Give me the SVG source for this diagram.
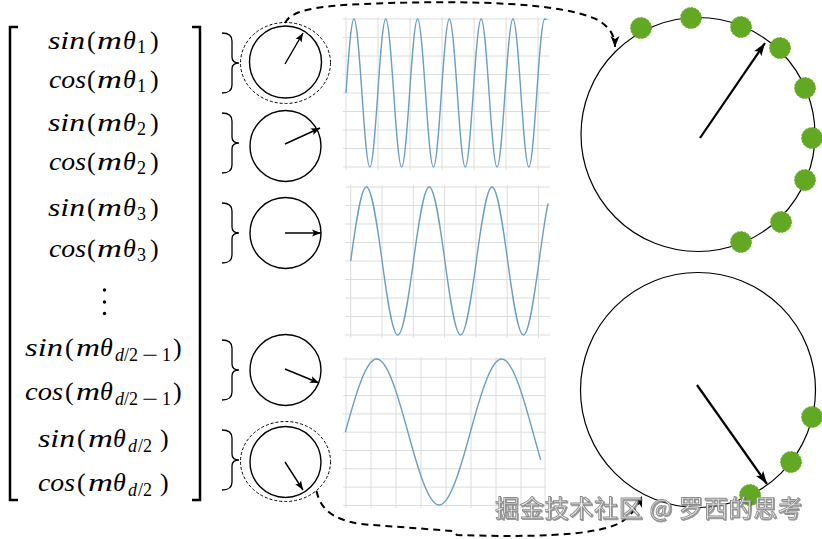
<svg xmlns="http://www.w3.org/2000/svg" width="822" height="539" viewBox="0 0 822 539">
<style>
.m{font-family:"Liberation Serif","Times New Roman",serif;font-style:italic;font-size:26px;fill:#000}
.up{font-style:normal}
.sub{font-size:18px;font-style:normal}
.subi{font-size:18px;font-style:italic}
.br{fill:none;stroke:#000;stroke-width:2.5}
.cb{fill:none;stroke:#000;stroke-width:1.3}
.sc{fill:none;stroke:#000;stroke-width:1.4}
.de{fill:none;stroke:#000;stroke-width:1;stroke-dasharray:3 2}
.bc{fill:none;stroke:#000;stroke-width:1.2}
.sa{fill:none;stroke:#000;stroke-width:1.4;marker-end:url(#ah)}
.ba{fill:none;stroke:#000;stroke-width:2.2;marker-end:url(#ahb)}
.dc{fill:none;stroke:#000;stroke-width:2;stroke-dasharray:7 5;marker-end:url(#ahd)}
.grid{fill:none;stroke:#dcdcdc;stroke-width:1}
.wave{fill:none;stroke:#6a9ec2;stroke-width:1.4}
.dot{fill:#62a823;stroke:#6bb02a;stroke-width:1;stroke-dasharray:2 1.5}
.wm{font-family:"Noto Sans CJK SC","Noto Sans",sans-serif;font-size:24px;fill:#f4f4f4;stroke:#8c8c8c;stroke-width:0.9}
</style>
<defs>
<marker id="ah" markerUnits="userSpaceOnUse" markerWidth="10" markerHeight="8" refX="9" refY="4" orient="auto"><path d="M0,0.5 L9,4 L0,7.5 L2,4 z" fill="#000"/></marker>
<marker id="ahb" markerUnits="userSpaceOnUse" markerWidth="14" markerHeight="10" refX="13" refY="5" orient="auto"><path d="M0,0.5 L13,5 L0,9.5 L3,5 z" fill="#000"/></marker>
<marker id="ahd" markerUnits="userSpaceOnUse" markerWidth="12" markerHeight="10" refX="11" refY="5" orient="auto"><path d="M0,0.5 L11,5 L0,9.5 L3,5 z" fill="#000"/></marker>
<filter id="sh" x="-5%" y="-20%" width="110%" height="140%"><feDropShadow dx="1" dy="1" stdDeviation="0.6" flood-color="#555" flood-opacity="0.6"/></filter>
</defs>
<rect width="822" height="539" fill="#fff"/>

<g id="matrix">
<path class="br" d="M18,27 H10 V500 H18"/>
<path class="br" d="M192,27 H200 V500 H192"/>
<text class="m" y="49"><tspan x="48" textLength="37" lengthAdjust="spacingAndGlyphs">sin</tspan><tspan class="up" x="87">(</tspan><tspan x="97" textLength="25" lengthAdjust="spacingAndGlyphs">m</tspan><tspan x="123">θ</tspan><tspan class="sub" x="137" y="53">1</tspan><tspan class="up" x="150" y="49">)</tspan></text>
<text class="m" y="88"><tspan x="49" textLength="37" lengthAdjust="spacingAndGlyphs">cos</tspan><tspan class="up" x="87">(</tspan><tspan x="97" textLength="25" lengthAdjust="spacingAndGlyphs">m</tspan><tspan x="123">θ</tspan><tspan class="sub" x="137" y="92">1</tspan><tspan class="up" x="150" y="88">)</tspan></text>
<text class="m" y="131"><tspan x="48" textLength="37" lengthAdjust="spacingAndGlyphs">sin</tspan><tspan class="up" x="87">(</tspan><tspan x="97" textLength="25" lengthAdjust="spacingAndGlyphs">m</tspan><tspan x="123">θ</tspan><tspan class="sub" x="137" y="135">2</tspan><tspan class="up" x="150" y="131">)</tspan></text>
<text class="m" y="170"><tspan x="49" textLength="37" lengthAdjust="spacingAndGlyphs">cos</tspan><tspan class="up" x="87">(</tspan><tspan x="97" textLength="25" lengthAdjust="spacingAndGlyphs">m</tspan><tspan x="123">θ</tspan><tspan class="sub" x="137" y="174">2</tspan><tspan class="up" x="150" y="170">)</tspan></text>
<text class="m" y="215.5"><tspan x="48" textLength="37" lengthAdjust="spacingAndGlyphs">sin</tspan><tspan class="up" x="87">(</tspan><tspan x="97" textLength="25" lengthAdjust="spacingAndGlyphs">m</tspan><tspan x="123">θ</tspan><tspan class="sub" x="137" y="219.5">3</tspan><tspan class="up" x="150" y="215.5">)</tspan></text>
<text class="m" y="256.5"><tspan x="49" textLength="37" lengthAdjust="spacingAndGlyphs">cos</tspan><tspan class="up" x="87">(</tspan><tspan x="97" textLength="25" lengthAdjust="spacingAndGlyphs">m</tspan><tspan x="123">θ</tspan><tspan class="sub" x="137" y="260.5">3</tspan><tspan class="up" x="150" y="256.5">)</tspan></text>
<circle cx="104.5" cy="290" r="1.7"/>
<circle cx="104.5" cy="302" r="1.7"/>
<circle cx="104.5" cy="313.5" r="1.7"/>
<text class="m" y="356"><tspan x="25" textLength="38" lengthAdjust="spacingAndGlyphs">sin</tspan><tspan class="up" x="65">(</tspan><tspan x="76" textLength="24" lengthAdjust="spacingAndGlyphs">m</tspan><tspan x="100">θ</tspan><tspan class="subi" x="115" y="361">d</tspan><tspan class="sub" x="124" y="361">/2</tspan><tspan class="sub" x="142" y="361" textLength="16" lengthAdjust="spacingAndGlyphs">−</tspan><tspan class="sub" x="162" y="361">1</tspan><tspan class="up" x="173" y="356">)</tspan></text>
<text class="m" y="400"><tspan x="25" textLength="38" lengthAdjust="spacingAndGlyphs">cos</tspan><tspan class="up" x="65">(</tspan><tspan x="76" textLength="24" lengthAdjust="spacingAndGlyphs">m</tspan><tspan x="100">θ</tspan><tspan class="subi" x="115" y="405">d</tspan><tspan class="sub" x="124" y="405">/2</tspan><tspan class="sub" x="142" y="405" textLength="16" lengthAdjust="spacingAndGlyphs">−</tspan><tspan class="sub" x="162" y="405">1</tspan><tspan class="up" x="173" y="400">)</tspan></text>
<text class="m" y="447"><tspan x="38" textLength="37" lengthAdjust="spacingAndGlyphs">sin</tspan><tspan class="up" x="77">(</tspan><tspan x="88" textLength="25" lengthAdjust="spacingAndGlyphs">m</tspan><tspan x="113">θ</tspan><tspan class="subi" x="128" y="452">d</tspan><tspan class="sub" x="138" y="452">/2</tspan><tspan class="up" x="160" y="447">)</tspan></text>
<text class="m" y="491"><tspan x="38" textLength="37" lengthAdjust="spacingAndGlyphs">cos</tspan><tspan class="up" x="77">(</tspan><tspan x="88" textLength="25" lengthAdjust="spacingAndGlyphs">m</tspan><tspan x="113">θ</tspan><tspan class="subi" x="128" y="496">d</tspan><tspan class="sub" x="138" y="496">/2</tspan><tspan class="up" x="160" y="491">)</tspan></text>
</g>

<g id="braces">
<path class="cb" d="M222,33 Q232,33 232,41 V57 Q232,63 239,63 Q232,63 232,69 V85 Q232,93 222,93"/>
<path class="cb" d="M222,113 Q232,113 232,121 V137 Q232,143 239,143 Q232,143 232,149 V165 Q232,173 222,173"/>
<path class="cb" d="M222,203 Q232,203 232,211 V227 Q232,233 239,233 Q232,233 232,239 V255 Q232,263 222,263"/>
<path class="cb" d="M222,340 Q232,340 232,348 V364 Q232,370 239,370 Q232,370 232,376 V392 Q232,400 222,400"/>
<path class="cb" d="M222,430 Q232,430 232,438 V454 Q232,460 239,460 Q232,460 232,466 V482 Q232,490 222,490"/>
</g>

<g id="rot1"><ellipse class="de" cx="285.5" cy="63" rx="45" ry="40.5"/><circle class="sc" cx="285.5" cy="62" r="36"/><path class="sa" d="M285,64 L303,33"/></g>
<g id="rot2"><circle class="sc" cx="285.5" cy="146" r="35.5"/><path class="sa" d="M285,144 L320,128"/></g>
<g id="rot3"><circle class="sc" cx="285.5" cy="233" r="35.5"/><path class="sa" d="M285,233 L321,233"/></g>
<g id="rot4"><circle class="sc" cx="285.5" cy="370" r="35.5"/><path class="sa" d="M285,369 L319,383"/></g>
<g id="rot5"><ellipse class="de" cx="285.5" cy="461.5" rx="45" ry="40"/><circle class="sc" cx="285.5" cy="462" r="35.5"/><path class="sa" d="M285,462 L303,490"/></g>

<g id="plot1">
<path class="grid" d="M343,19H550M343,37.5H550M343,56H550M343,74.5H550M343,93H550M343,111.5H550M343,130H550M343,148.5H550M343,167H550M346,17V170M378,17V170M410,17V170M442,17V170M474,17V170M506,17V170M538,17V170"/>
<path class="wave" d="M346,93 c2.59,-37.93 5.22,-74 7.95,-74 s5.36,36.08 7.95,74 s5.22,74 7.95,74 s5.36,-36.08 7.95,-74 s5.22,-74 7.95,-74 s5.36,36.08 7.95,74 s5.22,74 7.95,74 s5.36,-36.08 7.95,-74 s5.22,-74 7.95,-74 s5.36,36.08 7.95,74 s5.22,74 7.95,74 s5.36,-36.08 7.95,-74 s5.22,-74 7.95,-74 s5.36,36.08 7.95,74 s5.22,74 7.95,74 s5.36,-36.08 7.95,-74 s5.22,-74 7.95,-74 s5.36,36.08 7.95,74 s5.22,74 7.95,74 s5.36,-36.08 7.95,-74 s5.22,-74 7.95,-74 s5.36,36.08 7.95,74 s5.22,74 7.95,74 s5.36,-36.08 7.95,-74 s5.22,-74 7.95,-74 l2,0.6"/>
</g>
<g id="plot2">
<path class="grid" d="M345,187H550M345,205.5H550M345,224H550M345,242.5H550M345,261H550M345,279.5H550M345,298H550M345,316.5H550M345,335H550M350.7,185V338M382,185V338M413.3,185V338M444.6,185V338M475.9,185V338M507.2,185V338M538.5,185V338"/>
<path class="wave" d="M350.7,261 c5.12,-37.93 10.32,-74 15.7,-74 s10.58,36.08 15.7,74 s10.32,74 15.7,74 s10.58,-36.08 15.7,-74 s10.32,-74 15.7,-74 s10.58,36.08 15.7,74 s10.32,74 15.7,74 s10.58,-36.08 15.7,-74 s10.32,-74 15.7,-74 s10.58,36.08 15.7,74 s10.32,74 15.7,74 s10.58,-36.08 15.7,-74 c2.98,-22.1 5.97,-43.9 8.95,-57.7"/>
</g>
<g id="plot3">
<path class="grid" d="M343,359H546M343,377.3H546M343,395.6H546M343,413.9H546M343,432.2H546M343,450.5H546M343,468.8H546M343,487.1H546M343,505.4H546M346,357V508M371,357V508M396,357V508M421,357V508M446,357V508M471,357V508M496,357V508M521,357V508M545,357V508"/>
<path class="wave" d="M345.4,432 c10.2,-37.41 20.53,-73 31.25,-73 s21.05,35.59 31.25,73 s20.53,73 31.25,73 s21.05,-35.59 31.25,-73 s20.53,-73 31.25,-73 s21.05,35.59 31.25,73 c2.6,9.54 5.2,19.09 7.8,27.9"/>
</g>

<g id="big1">
<circle class="bc" cx="698" cy="134.5" r="117"/>
<path class="ba" d="M700,138 L765,43"/>
<circle class="dot" cx="641" cy="28" r="10.5"/>
<circle class="dot" cx="691" cy="18" r="10.5"/>
<circle class="dot" cx="741" cy="27" r="10.5"/>
<circle class="dot" cx="780" cy="48" r="10.5"/>
<circle class="dot" cx="805" cy="88" r="10.5"/>
<circle class="dot" cx="812" cy="138" r="10.5"/>
<circle class="dot" cx="805" cy="180" r="10.5"/>
<circle class="dot" cx="781" cy="222" r="10.5"/>
<circle class="dot" cx="741" cy="242" r="10.5"/>
</g>
<g id="big2">
<circle class="bc" cx="698" cy="390" r="117.5"/>
<path class="ba" d="M697,385 L767,484"/>
<circle class="dot" cx="812" cy="417" r="10.5"/>
<circle class="dot" cx="791" cy="462" r="10.5"/>
<circle class="dot" cx="750" cy="495" r="10.5"/>
</g>

<g id="connectors">
<path class="dc" d="M285,23 C292,9 320,5 390,3 C470,1 560,2 598,20 C611,28 615,37 615,47"/>
<path class="dc" d="M316.5,491 C320,507 330,519 360,524 L453,531 L457,535 C520,537 592,537 620,523 C632,515 638,506 642,496"/>
</g>

<text class="wm" x="495" y="517" textLength="307" filter="url(#sh)">掘金技术社区 @ 罗西的思考</text>
</svg>
